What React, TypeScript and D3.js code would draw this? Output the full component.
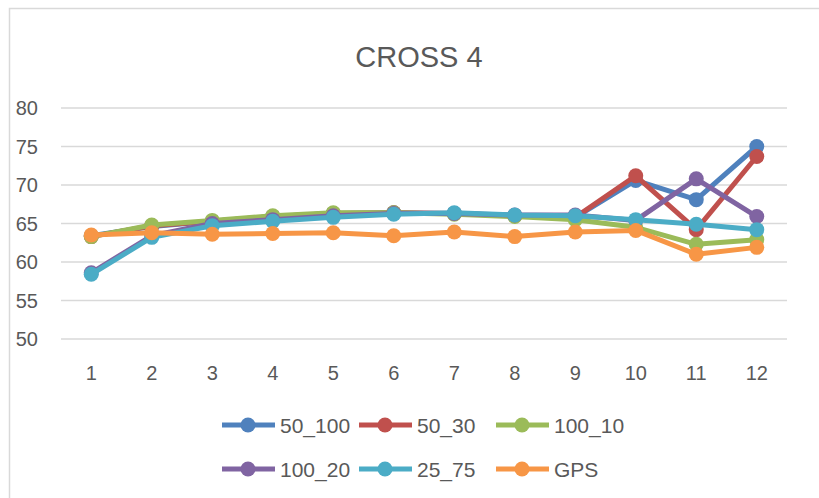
import React, { useEffect, useRef } from "react";
import * as d3 from "d3";

// categories and series
const categories = ["1", "2", "3", "4", "5", "6", "7", "8", "9", "10", "11", "12"];
const yTicks = [50, 55, 60, 65, 70, 75, 80];

const s50_100 = [63.4, 64.6, 65.3, 65.9, 66.3, 66.4, 66.3, 66.0, 65.8, 70.6, 68.1, 75.0];
const s50_30 = [63.3, 64.7, 65.3, 65.9, 66.3, 66.4, 66.3, 66.0, 65.8, 71.2, 64.2, 73.7];
const s100_10 = [63.3, 64.8, 65.4, 66.0, 66.4, 66.4, 66.2, 65.9, 65.5, 64.5, 62.3, 62.9];
const s100_20 = [58.6, 63.4, 65.0, 65.5, 66.0, 66.3, 66.3, 66.1, 66.1, 65.4, 70.8, 65.9];
const s25_75 = [58.4, 63.2, 64.7, 65.3, 65.8, 66.2, 66.4, 66.1, 66.0, 65.5, 64.9, 64.2];
const sGPS = [63.5, 63.8, 63.6, 63.7, 63.8, 63.4, 63.9, 63.3, 63.9, 64.1, 61.0, 61.9];

const seriesNames = ["50_100", "50_30", "100_10", "100_20", "25_75", "GPS"];
const seriesColors = ["#4F81BD", "#C0504D", "#9BBB59", "#8064A2", "#4BACC6", "#F79646"];

export default function App() {
  const ref = useRef<SVGSVGElement>(null);

  useEffect(() => {
    const svg = d3.select(ref.current);
    svg.selectAll("*").remove();

    const width = 819, height = 498;
    const font = "'Liberation Sans', Arial, sans-serif";
    const textColor = "#595959";
    const margin = { top: 108, right: 32, bottom: 159, left: 61 };

    const series = [s50_100, s50_30, s100_10, s100_20, s25_75, sGPS].map((values, i) => ({
      name: seriesNames[i],
      color: seriesColors[i],
      values,
    }));

    // chart border
    svg.append("rect")
      .attr("x", 9.5).attr("y", 8.5)
      .attr("width", width + 10).attr("height", height + 10)
      .attr("fill", "white")
      .attr("stroke", "#d9d9d9")
      .attr("stroke-width", 1.5);

    // title
    svg.append("text")
      .attr("x", 419).attr("y", 67)
      .attr("text-anchor", "middle")
      .style("font-family", font)
      .style("font-size", "29px")
      .attr("fill", textColor)
      .text("CROSS 4");

    const x = d3.scaleBand()
      .domain(categories)
      .range([margin.left, width - margin.right]);

    const y = d3.scaleLinear()
      .domain([50, 80])
      .range([height - margin.bottom, margin.top]);

    // gridlines
    svg.append("g")
      .selectAll("line")
      .data(yTicks)
      .enter()
      .append("line")
      .attr("x1", margin.left).attr("x2", width - margin.right)
      .attr("y1", d => y(d)).attr("y2", d => y(d))
      .attr("stroke", "#d9d9d9")
      .attr("stroke-width", 1.5);

    // y labels
    svg.append("g")
      .selectAll("text")
      .data(yTicks)
      .enter()
      .append("text")
      .attr("x", 38)
      .attr("y", d => y(d) + 7)
      .attr("text-anchor", "end")
      .style("font-family", font)
      .style("font-size", "20px")
      .attr("fill", textColor)
      .text(d => d);

    // x labels
    svg.append("g")
      .selectAll("text")
      .data(categories)
      .enter()
      .append("text")
      .attr("x", d => x(d)! + x.bandwidth() / 2)
      .attr("y", 380)
      .attr("text-anchor", "middle")
      .style("font-family", font)
      .style("font-size", "20px")
      .attr("fill", textColor)
      .text(d => d);

    const line = d3.line<number>()
      .x((_, i) => x(categories[i])! + x.bandwidth() / 2)
      .y(d => y(d));

    // lines and markers, series by series
    series.forEach(s => {
      const g = svg.append("g");
      g.append("path")
        .datum(s.values)
        .attr("d", line)
        .attr("fill", "none")
        .attr("stroke", s.color)
        .attr("stroke-width", 5)
        .attr("stroke-linejoin", "round");
      g.selectAll("circle")
        .data(s.values)
        .enter()
        .append("circle")
        .attr("cx", (_, i) => x(categories[i])! + x.bandwidth() / 2)
        .attr("cy", d => y(d))
        .attr("r", 7.5)
        .attr("fill", s.color);
    });

    // legend, 3 per row
    const legendX = [222, 359, 496];
    const legendY = [425, 469];
    series.forEach((s, i) => {
      const lx = legendX[i % 3];
      const ly = legendY[Math.floor(i / 3)];
      const g = svg.append("g").attr("transform", `translate(${lx},${ly})`);
      g.append("line")
        .attr("x1", 0).attr("x2", 53)
        .attr("y1", 0).attr("y2", 0)
        .attr("stroke", s.color)
        .attr("stroke-width", 5);
      g.append("circle")
        .attr("cx", 26).attr("cy", 0)
        .attr("r", 7.5)
        .attr("fill", s.color);
      g.append("text")
        .attr("x", 58).attr("y", 7.5)
        .style("font-family", font)
        .style("font-size", "21px")
        .attr("fill", textColor)
        .text(s.name);
    });
  }, []);

  return (
    <svg
      ref={ref}
      width={819}
      height={498}
      style={{ position: "absolute", left: 0, top: 0 }}
    />
  );
}
